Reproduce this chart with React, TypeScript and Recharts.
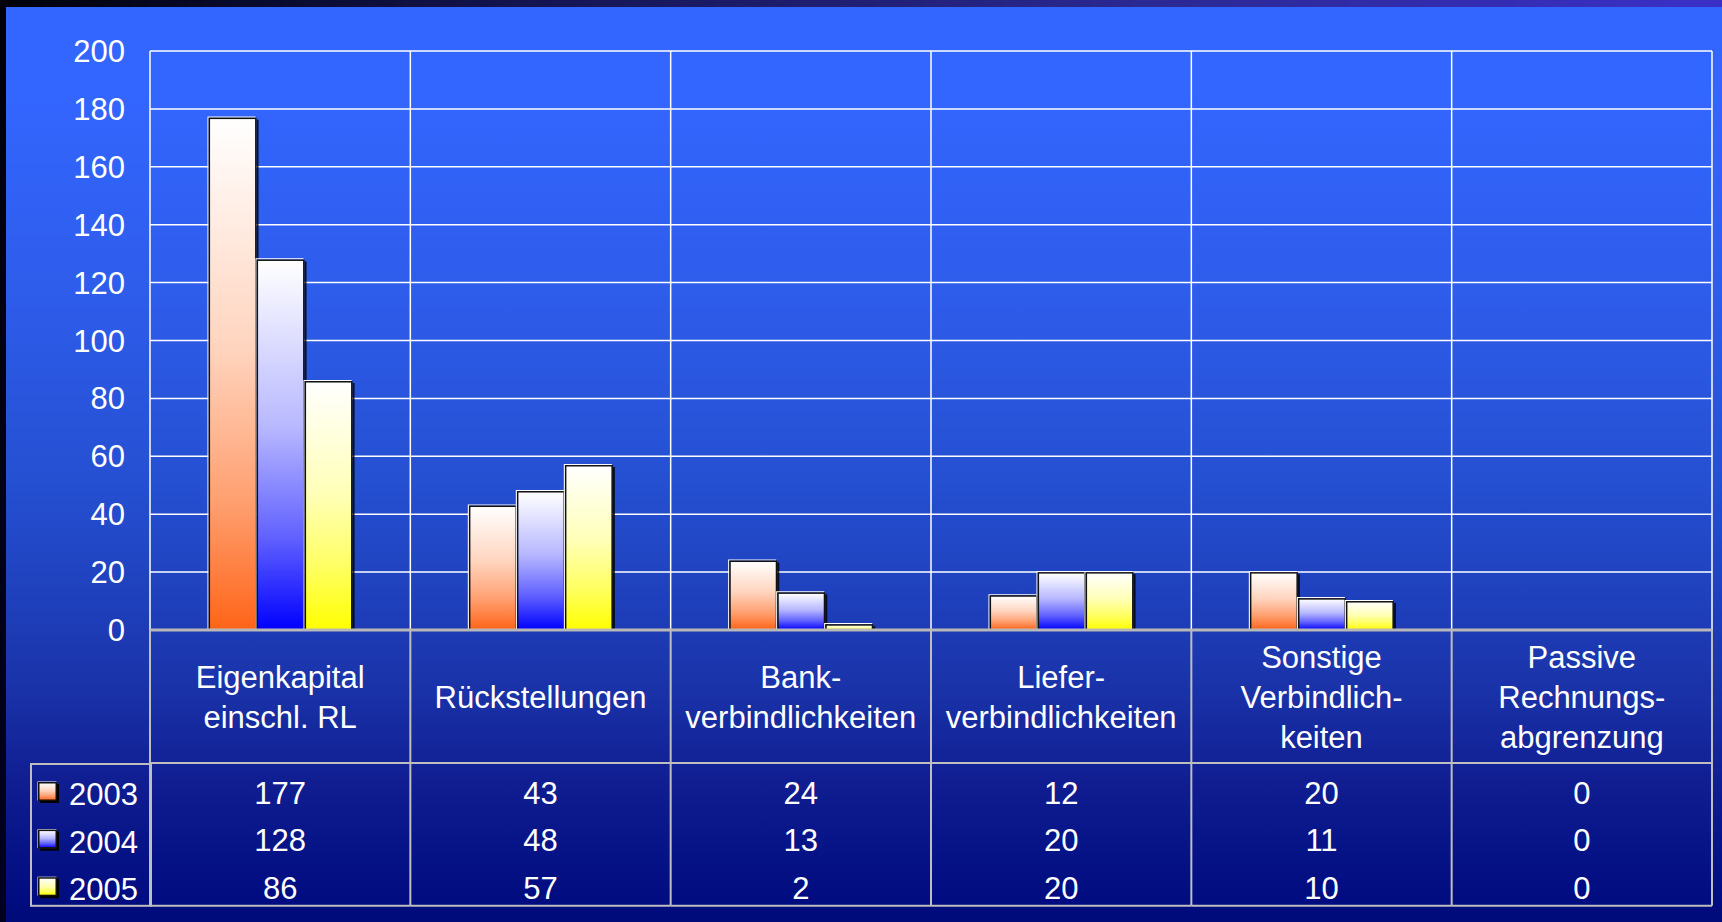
import React from 'react';
import { BarChart, Bar, XAxis, YAxis, CartesianGrid, Legend } from 'recharts';

// ---- data ----
const categoryLines: string[][] = [
  ['Eigenkapital', 'einschl. RL'],
  ['Rückstellungen'],
  ['Bank-', 'verbindlichkeiten'],
  ['Liefer-', 'verbindlichkeiten'],
  ['Sonstige', 'Verbindlich-', 'keiten'],
  ['Passive', 'Rechnungs-', 'abgrenzung'],
];
const values2003 = [177, 43, 24, 12, 20, 0];
const values2004 = [128, 48, 13, 20, 11, 0];
const values2005 = [86, 57, 2, 20, 10, 0];
const seriesNames = ['2003', '2004', '2005'];
const seriesKeys = ['y2003', 'y2004', 'y2005'];
const seriesValues = [values2003, values2004, values2005];
const seriesColors = ['#FF6418', '#0000FF', '#FFFF00'];
const yTicks = [0, 20, 40, 60, 80, 100, 120, 140, 160, 180, 200];

const data = categoryLines.map((lines, i) => ({
  name: lines.join(' '),
  y2003: values2003[i],
  y2004: values2004[i],
  y2005: values2005[i],
}));

// ---- layout ----
const CHART_W = 1722;
const CHART_H = 922;
const MARGIN = { top: 51, right: 10, bottom: 0, left: 0 };
const Y_AXIS_W = 150;
const X_AXIS_H = 292;
const PLOT_W = CHART_W - MARGIN.left - MARGIN.right - Y_AXIS_W;
const FONT = '"Liberation Sans", Arial, Helvetica, sans-serif';
const FONT_SIZE = 31;
const TABLE_LINE = '#BEBEBE';
const LABEL_ROW_H = 133;
const DATA_ROW_H = 47.6;
const TABLE_H = LABEL_ROW_H + 3 * DATA_ROW_H;

const mix = (hex: string, t: number) => {
  const r = parseInt(hex.slice(1, 3), 16);
  const g = parseInt(hex.slice(3, 5), 16);
  const b = parseInt(hex.slice(5, 7), 16);
  const m = (c: number) => Math.round(255 + (c - 255) * t);
  return `rgb(${m(r)},${m(g)},${m(b)})`;
};

const Gradients = ({ prefix }: { prefix: string }) => (
  <defs>
    {seriesColors.map((c, i) => (
      <linearGradient key={i} id={`${prefix}${i}`} x1="0" y1="0" x2="0" y2="1">
        <stop offset="0%" stopColor="#FFFFFF" />
        <stop offset="45%" stopColor={mix(c, 0.28)} />
        <stop offset="75%" stopColor={mix(c, 0.62)} />
        <stop offset="100%" stopColor={c} />
      </linearGradient>
    ))}
  </defs>
);

const makeShape = (si: number) => (props: any) => {
  const { x, y, width, height } = props;
  if (!height || height <= 0) return <g />;
  return (
    <g>
      <rect x={x + width} y={y + 2} width={2} height={Math.max(0, height - 2)} fill="#000" fillOpacity={0.8} />
      <path d={`M${x - 0.5},${y + height} V${y - 0.5} H${x + width - 1}`} stroke="#FFFFFF" strokeWidth={1.2} fill="none" />
      <rect
        x={x + 0.75}
        y={y + 0.75}
        width={width - 1.5}
        height={Math.max(0, height - 0.75)}
        fill={`url(#barGrad${si})`}
        stroke="#111"
        strokeWidth={1.5}
      />
    </g>
  );
};

const renderCategoryTick = (props: any) => {
  const { x, y, payload } = props;
  const i = typeof payload.index === 'number' ? payload.index : props.index;
  const lines = categoryLines[i] || [];
  const n = categoryLines.length;
  const half = PLOT_W / n / 2;
  const n0 = lines.length;
  const center = LABEL_ROW_H / 2 + 11;
  return (
    <g>
      {lines.map((ln, k) => (
        <text
          key={k}
          x={x}
          y={y + center + (k - (n0 - 1) / 2) * 40}
          textAnchor="middle"
          fill="#FFFFFF"
          fontSize={FONT_SIZE}
          fontFamily={FONT}
        >
          {ln}
        </text>
      ))}
      <line x1={x - half} x2={x + half} y1={y + LABEL_ROW_H} y2={y + LABEL_ROW_H} stroke={TABLE_LINE} strokeWidth={2} />
      <line x1={x - half} x2={x + half} y1={y + TABLE_H} y2={y + TABLE_H} stroke={TABLE_LINE} strokeWidth={2} />
      <line x1={x - half} x2={x - half} y1={y} y2={y + TABLE_H} stroke={TABLE_LINE} strokeWidth={2} />
      {i === n - 1 && (
        <line x1={x + half} x2={x + half} y1={y} y2={y + TABLE_H} stroke={TABLE_LINE} strokeWidth={2} />
      )}
      {seriesValues.map((vals, s) => (
        <text
          key={s}
          x={x}
          y={y + LABEL_ROW_H + 40.5 + s * DATA_ROW_H}
          textAnchor="middle"
          fill="#FFFFFF"
          fontSize={FONT_SIZE}
          fontFamily={FONT}
        >
          {vals[i]}
        </text>
      ))}
    </g>
  );
};

const renderLegend = (props: any) => {
  const payload = (props && props.payload) || [];
  const items = seriesNames.map((nm, i) => {
    const p = payload.find((e: any) => e.dataKey === seriesKeys[i]);
    return p ? String(p.value) : nm;
  });
  return (
    <svg width={120} height={TABLE_H - LABEL_ROW_H + 1} style={{ display: 'block', overflow: 'visible' }}>
      <Gradients prefix="legGrad" />
      <rect x={1} y={1} width={120} height={TABLE_H - LABEL_ROW_H - 1} fill="none" stroke={TABLE_LINE} strokeWidth={2} />
      {items.map((nm, i) => {
        const top = 19 + i * DATA_ROW_H;
        return (
          <g key={i}>
            <rect x={10} y={top + 2} width={19} height={19} fill="#000" />
            <rect x={7.5} y={top - 0.5} width={19} height={19} fill="#FFFFFF" />
            <rect x={8.75} y={top + 0.75} width={17.5} height={17.5} fill={`url(#legGrad${i})`} stroke="#111" strokeWidth={1.5} />
            <text x={39} y={top + 23} fill="#FFFFFF" fontSize={FONT_SIZE} fontFamily={FONT}>
              {nm}
            </text>
          </g>
        );
      })}
    </svg>
  );
};

export default function App() {
  return (
    <div
      style={{
        position: 'fixed',
        left: 0,
        top: 0,
        width: CHART_W,
        height: CHART_H,
        overflow: 'hidden',
        fontFamily: FONT,
        background:
          'linear-gradient(to bottom, #3366FF 0px, #3366FF 90px, #2E5CEA 300px, #2550D2 480px, #1F40BC 600px, #1A32A8 690px, #101E92 780px, #000C80 900px, #000A78 922px)',
      }}
    >
      <div style={{ position: 'absolute', left: 0, top: 0 }}>
        <BarChart
          width={CHART_W}
          height={CHART_H}
          data={data}
          margin={MARGIN}
          barCategoryGap="22.5%"
          barGap={0}
        >
          <Gradients prefix="barGrad" />
          <CartesianGrid
            stroke="#FFFFFF"
            strokeWidth={1.5}
            verticalCoordinatesGenerator={({ offset }: any) =>
              Array.from({ length: categoryLines.length + 1 }, (_, k) => offset.left + (k * offset.width) / categoryLines.length)
            }
          />
          <YAxis
            width={Y_AXIS_W}
            domain={[0, 200]}
            ticks={yTicks}
            interval={0}
            axisLine={false}
            tickLine={false}
            tickSize={0}
            tickMargin={25}
            tick={{ fill: '#FFFFFF', fontSize: FONT_SIZE, fontFamily: FONT }}
          />
          <XAxis
            dataKey="name"
            height={X_AXIS_H}
            interval={0}
            tickLine={false}
            tickSize={0}
            tickMargin={0}
            axisLine={{ stroke: '#B8B8B8', strokeWidth: 3 }}
            tick={renderCategoryTick}
          />
          <Legend
            layout="horizontal"
            verticalAlign="middle"
            align="center"
            content={renderLegend}
            wrapperStyle={{ left: 30, top: 763, width: 121, height: TABLE_H - LABEL_ROW_H + 1 }}
          />
          {seriesKeys.map((k, si) => (
            <Bar
              key={k}
              dataKey={k}
              name={seriesNames[si]}
              fill={seriesColors[si]}
              isAnimationActive={false}
              shape={makeShape(si)}
            />
          ))}
        </BarChart>
      </div>
      <div
        style={{
          position: 'absolute',
          left: 0,
          top: 0,
          width: CHART_W,
          height: 7,
          background: 'linear-gradient(to right, #00000A 0%, #141450 30%, #2A2890 65%, #3A30C8 100%)',
        }}
      />
      <div
        style={{
          position: 'absolute',
          left: 0,
          top: 0,
          width: 6,
          height: CHART_H,
          background: 'linear-gradient(to bottom, #00000A, #000020)',
        }}
      />
    </div>
  );
}
